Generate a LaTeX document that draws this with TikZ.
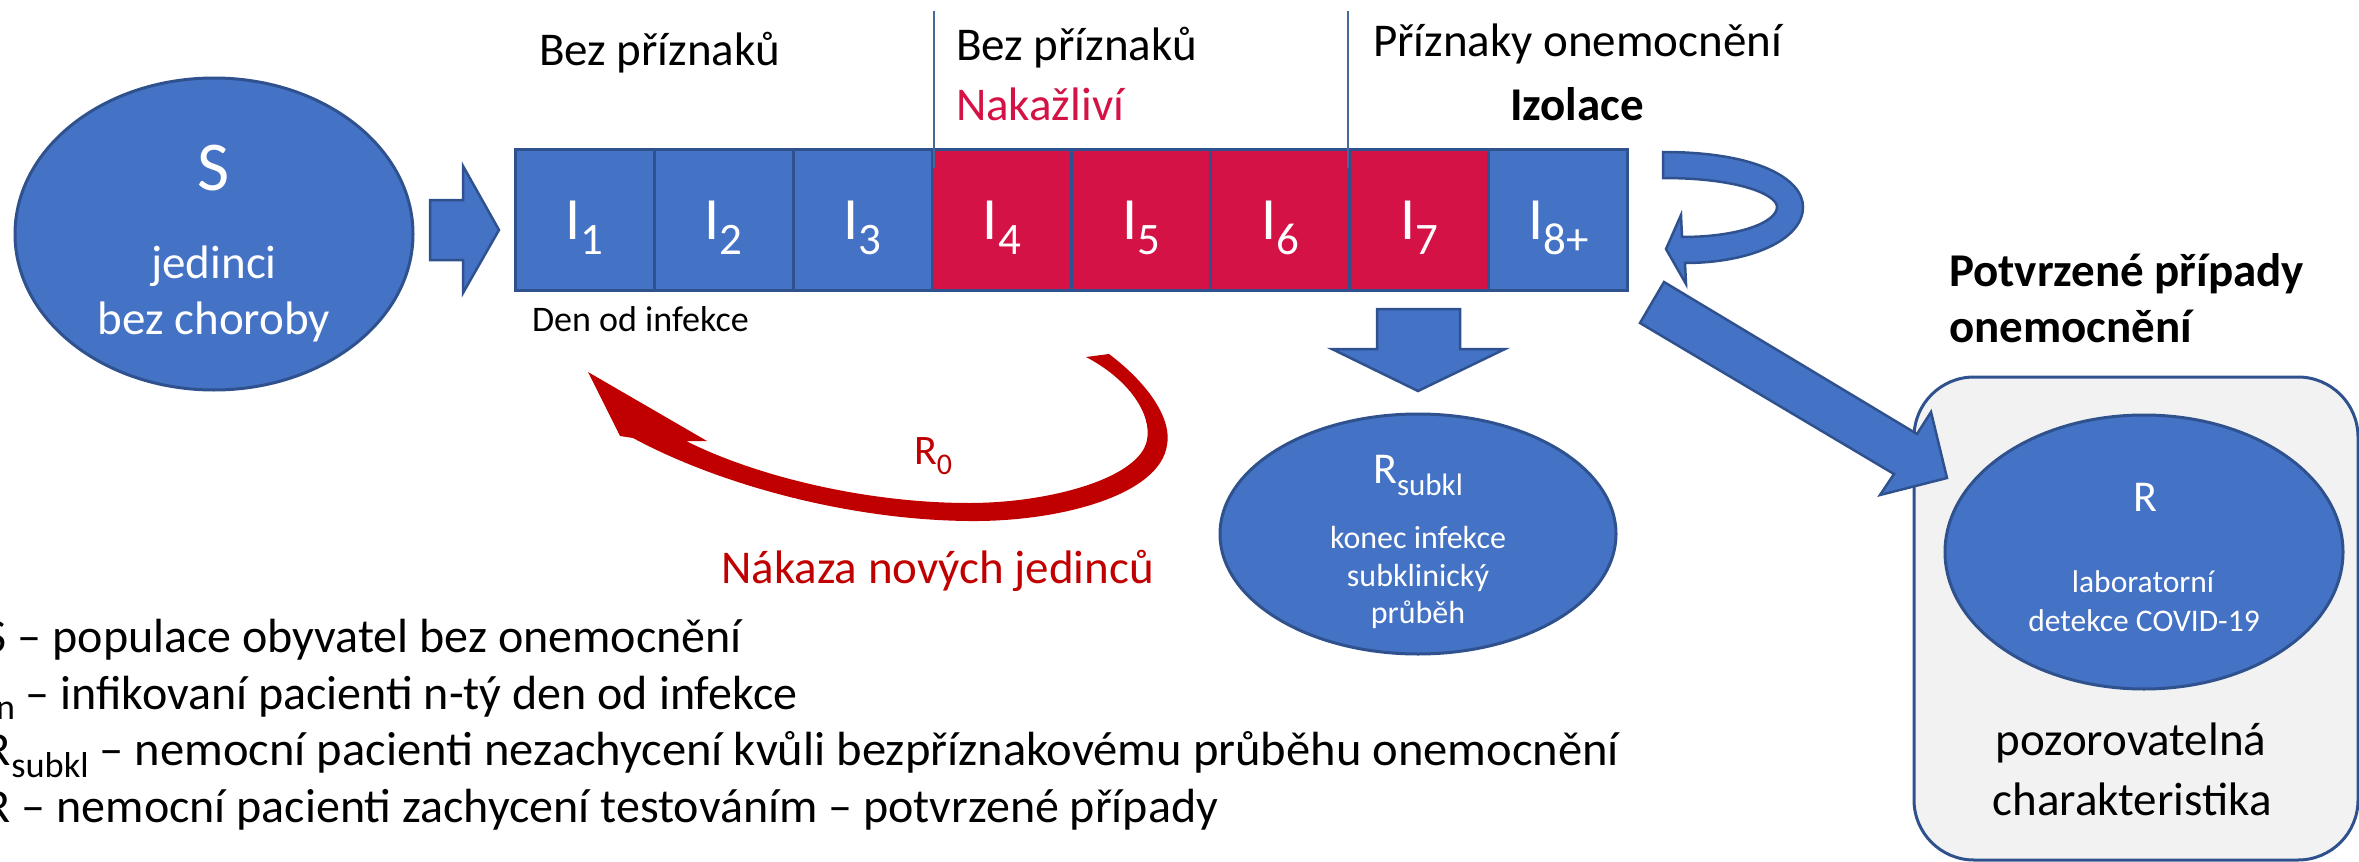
\documentclass[tikz,border=0pt]{standalone}
\usepackage{graphicx}
\usepackage{fontspec}
\setmainfont{Carlito}
\usetikzlibrary{shapes.geometric}
\definecolor{cblue}{RGB}{68,114,196}
\definecolor{cborder}{RGB}{47,82,143}
\definecolor{cred}{RGB}{212,18,69}
\definecolor{dred}{RGB}{192,0,0}
\definecolor{cgray}{RGB}{242,242,242}
\definecolor{vline}{RGB}{70,105,155}
\newcommand\fs[1]{\fontsize{#1}{#1}\selectfont}
\newcommand\sbx[3]{\raisebox{-#2pt}{\fs{#1}#3}}
\begin{document}
\begin{tikzpicture}[x=1pt,y=-1pt,
  txt/.style={inner sep=0pt, outer sep=0pt},
  wtxt/.style={txt, text=white},
  blob/.style={ellipse, fill=cblue, draw=cborder, line width=3pt, inner sep=0pt},
  cellb/.style={rectangle, draw=cborder, line width=3pt, minimum width=139.1pt, minimum height=141pt, inner sep=0pt},
  blockarrow/.style={fill=cblue, draw=cborder, line width=2.5pt, line join=miter},
  vln/.style={draw=vline, line width=2.5pt}]
\useasboundingbox (0,0) rectangle (2359,862);

% gray box of confirmed cases
\node[rectangle, fill=cgray, draw=cborder, line width=3pt, rounded corners=60pt,
      minimum width=444pt, minimum height=483pt] (box) at (2136,618.5) {};

% ellipses
\node[blob, minimum width=398pt, minimum height=312pt] (S) at (214,234) {};
\node[blob, minimum width=396pt, minimum height=240pt] (Rsub) at (1418,534) {};
\node[blob, minimum width=398pt, minimum height=274pt] (R) at (2144,552) {};

% cells
\foreach \i/\col in {1/cblue,2/cblue,3/cblue,4/cred,5/cred,6/cred,7/cred,8/cblue}{
  \node[cellb, fill=\col] (c\i) at ({515+139.1*(\i-0.5)},219.5) {};
}
\foreach \i/\s in {1/1,2/2,3/3,4/4,5/5,6/6,7/7,8/8+}{
  \node[wtxt, anchor=base, font=\fs{60}] (l\i) at ({515+139.1*(\i-0.5)},239) {I\sbx{45}{15}{\s}};
}

% vertical separators
\coordinate (v1t) at (934,11); \coordinate (v1b) at (934,168);
\coordinate (v2t) at (1348,11); \coordinate (v2b) at (1348,168);
\draw[vln] (v1t) -- (v1b);
\draw[vln] (v2t) -- (v2b);

% block arrows
\draw[blockarrow] (430,200) -- (463,200) -- (463,166) -- (499,230) -- (463,293) -- (463,260) -- (430,260) -- cycle;
\draw[blockarrow] (1377,309) -- (1460,309) -- (1460,349) -- (1505,349) -- (1418,391) -- (1332,349) -- (1377,349) -- cycle;
\draw[blockarrow] (1664,282) -- (1917,434) -- (1931,412) -- (1947,478) -- (1880,495) -- (1894,474) -- (1640,323) -- cycle;
% U-turn arrow (isolation)
\draw[blockarrow] (1663,152) .. controls (1760,152) and (1803,180) .. (1803,207)
  .. controls (1803,240) and (1750,263) .. (1685,263)
  -- (1686,284) -- (1666,249) -- (1681,215) -- (1682,237)
  .. controls (1740,237) and (1777,222) .. (1777,207)
  .. controls (1777,195) and (1740,178) .. (1663,178) -- cycle;

% red R0 arrow
\fill[dred] (1109,354) .. controls (1150,385) and (1172,420) .. (1167,445)
  .. controls (1160,495) and (1060,522) .. (969,521)
  .. controls (850,520) and (720,485) .. (633,438)
  -- (620,436) -- (588,372) -- (707,441) -- (686,441)
  .. controls (760,478) and (870,503) .. (969,503)
  .. controls (1050,503) and (1140,478) .. (1147,440)
  .. controls (1152,415) and (1130,380) .. (1086,357) -- cycle;

% texts in ellipses
\node[wtxt, anchor=base, font=\fs{70}] (St) at (214,190) {S};
\node[wtxt, anchor=base, font=\fs{47}] (St2) at (214,278) {jedinci};
\node[wtxt, anchor=base, font=\fs{47}] (St3) at (214,334) {bez choroby};

\node[wtxt, anchor=base, font=\fs{44}] (Rst) at (1418,483) {R\sbx{31}{12}{subkl}};
\node[wtxt, anchor=base, font=\fs{32}] (Rs2) at (1418,548) {konec infekce};
\node[wtxt, anchor=base, font=\fs{32}] (Rs3) at (1418,586) {subklinický};
\node[wtxt, anchor=base, font=\fs{32}] (Rs4) at (1418,623) {průběh};

\node[wtxt, anchor=base, font=\fs{44}] (Rt) at (2145,511) {R};
\node[wtxt, anchor=base, font=\fs{31.5}] (Rt2) at (2143,592) {laboratorní};
\node[wtxt, anchor=base, font=\fs{31.5}] (Rt3) at (2144,631) {detekce COVID-19};

\node[txt, anchor=base, font=\fs{47}] (po1) at (2131,755) {pozorovatelná};
\node[txt, anchor=base, font=\fs{47}] (po2) at (2132,815) {charakteristika};

% headers
\node[txt, anchor=base west, font=\fs{47}] (h1) at (539,65) {Bez příznaků};
\node[txt, anchor=base west, font=\fs{47}] (h2) at (956,60) {Bez příznaků};
\node[txt, anchor=base west, font=\fs{47}, text=cred] (h3) at (956,120) {Nakažliví};
\node[txt, anchor=base west, font=\fs{47}] (h4) at (1373,56) {Příznaky onemocnění};
\node[txt, anchor=base west, font=\bfseries\fs{47}] (h5) at (1510,120) {Izolace};
\node[txt, anchor=base west, font=\fs{36}] (den) at (532,331) {Den od infekce};
\node[txt, anchor=base west, font=\bfseries\fs{47}] (pot1) at (1949,286) {Potvrzené případy};
\node[txt, anchor=base west, font=\bfseries\fs{47}] (pot2) at (1949,342) {onemocnění};

% R0 labels
\node[txt, anchor=base west, font=\fs{42}, text=dred] (r0) at (914,464) {R\sbx{30}{10}{0}};
\node[txt, anchor=base east, font=\fs{47}, text=dred] (nak) at (1154,583) {Nákaza nových jedinců};

% legend
\node[txt, anchor=base west, font=\fs{48}] (lg1) at (-15,652) {S – populace obyvatel bez onemocnění};
\node[txt, anchor=base west, font=\fs{48}] (lg2) at (-16,709) {I\sbx{36}{10}{n} – infikovaní pacienti n-tý den od infekce};
\node[txt, anchor=base west, font=\fs{48}] (lg3) at (-15,765) {\scalebox{1.011}[1]{R\sbx{36}{12}{subkl} – nemocní pacienti nezachycení kvůli bezpříznakovému průběhu onemocnění}};
\node[txt, anchor=base west, font=\fs{48}] (lg4) at (-15,822) {R – nemocní pacienti zachycení testováním – potvrzené případy};
\end{tikzpicture}
\end{document}
